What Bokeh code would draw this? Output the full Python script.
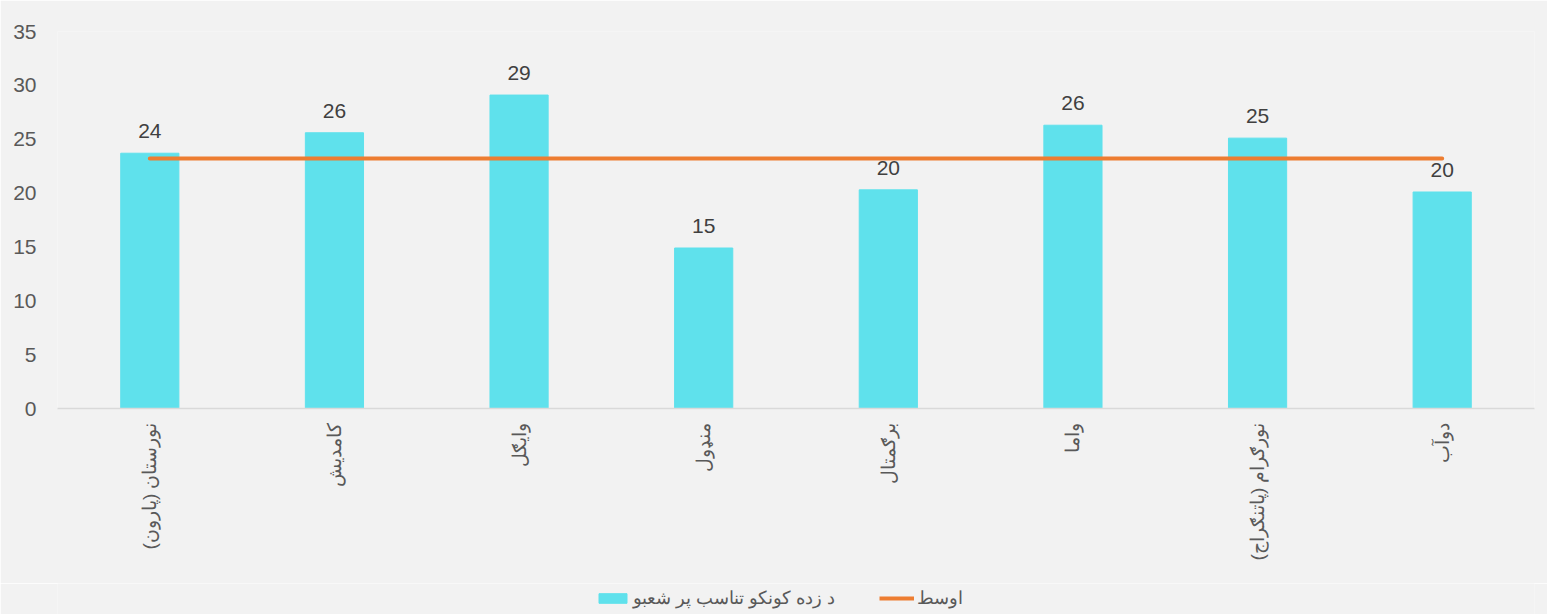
import math
from bokeh.plotting import figure
from bokeh.layouts import column
from bokeh.models import (ColumnDataSource, FactorRange, Range1d, LabelSet, Legend,
                          LegendItem)
from bokeh.core.properties import value
from bokeh.embed import file_html
from bokeh.resources import INLINE

categories = ["نورستان (پارون)", "کامدیش", "وایګل", "منډول", "برګمتال", "واما",
              "نورګرام (پاتنګراج)", "دوآب"]
ratio = [23.7, 25.6, 29.1, 14.9, 20.3, 26.3, 25.1, 20.1]
average = [23.2, 23.2, 23.2, 23.2, 23.2, 23.2, 23.2, 23.2]
bar_name = "د زده کونکو تناسب پر شعبو"
avg_name = "اوسط"
y_ticks = [0, 5, 10, 15, 20, 25, 30, 35]

src = ColumnDataSource(dict(cat=categories, val=ratio, avg=average,
                            lbl=[str(int(round(v))) for v in ratio]))

FONT = "Liberation Sans"
GRAY = "#595959"
BG = "#F2F2F2"
BAR_C = "#5FE1EC"
AVG_C = "#ED7D31"

p = figure(x_range=FactorRange(*categories, range_padding=0),
           y_range=Range1d(0, 35),
           frame_width=1477, frame_height=377,
           min_border_left=57, min_border_top=31, min_border_right=13, min_border_bottom=175,
           output_backend="svg", toolbar_location=None,
           background_fill_color=BG, border_fill_color=BG,
           outline_line_color=None)

bars = p.vbar(x="cat", top="val", width=0.315, source=src,
              fill_color=BAR_C, line_color=BAR_C)
avg_line = p.line(x="cat", y="avg", source=src, line_color=AVG_C,
                  line_width=4, line_cap="round")

labels = LabelSet(x="cat", y="val", text="lbl", source=src, text_align="center",
                  text_baseline="bottom", y_offset=15, text_font_size="21px",
                  text_color="#404040", text_font=value(FONT))
p.add_layout(labels)

p.xgrid.visible = False
p.ygrid.visible = False

p.yaxis.ticker = y_ticks
p.yaxis.axis_line_color = None
p.yaxis.major_tick_line_color = None
p.yaxis.minor_tick_line_color = None
p.yaxis.major_label_text_font_size = "21px"
p.yaxis.major_label_text_color = GRAY
p.yaxis.major_label_text_font = FONT
p.yaxis.major_label_standoff = 15

p.xaxis.axis_line_color = "#D9D9D9"
p.xaxis.axis_line_width = 1.5
p.xaxis.major_tick_line_color = None
p.xaxis.minor_tick_line_color = None
p.xaxis.major_label_orientation = math.pi / 2
p.xaxis.major_label_text_font_size = "19px"
p.xaxis.major_label_text_color = GRAY
p.xaxis.major_label_text_font = FONT
p.xaxis.major_label_standoff = 8

# legend strip below the chart (its frame is aligned with the chart frame)
lg = figure(width=1547, height=31, x_range=Range1d(0, 1), y_range=Range1d(0, 1),
            min_border=0, output_backend="svg", toolbar_location=None,
            background_fill_color=BG, border_fill_color=BG, outline_line_color=None)
lg.axis.visible = False
lg.grid.visible = False
hidden = ColumnDataSource(dict(x=[0.2, 0.8], y=[0.5, 0.5], top=[0.5, 0.5]))
lg_bar = lg.vbar(x="x", top="top", width=0.1, source=hidden,
                 fill_color=BAR_C, line_color=BAR_C, visible=False)
lg_line = lg.line(x="x", y="y", source=hidden, line_color=AVG_C, line_width=4,
                  visible=False)

legend = Legend(items=[LegendItem(label=bar_name, renderers=[lg_bar]),
                       LegendItem(label=avg_name, renderers=[lg_line])],
                orientation="horizontal", location=(534, 1),
                background_fill_alpha=0, border_line_alpha=0,
                label_text_font_size="18px", label_text_color=GRAY,
                label_text_font=FONT, glyph_width=35, glyph_height=12,
                spacing=44, label_standoff=3, padding=4, margin=0)
lg.add_layout(legend, "center")

layout = column(p, lg, spacing=0)
open("out.html", "w").write(file_html(layout, INLINE))
